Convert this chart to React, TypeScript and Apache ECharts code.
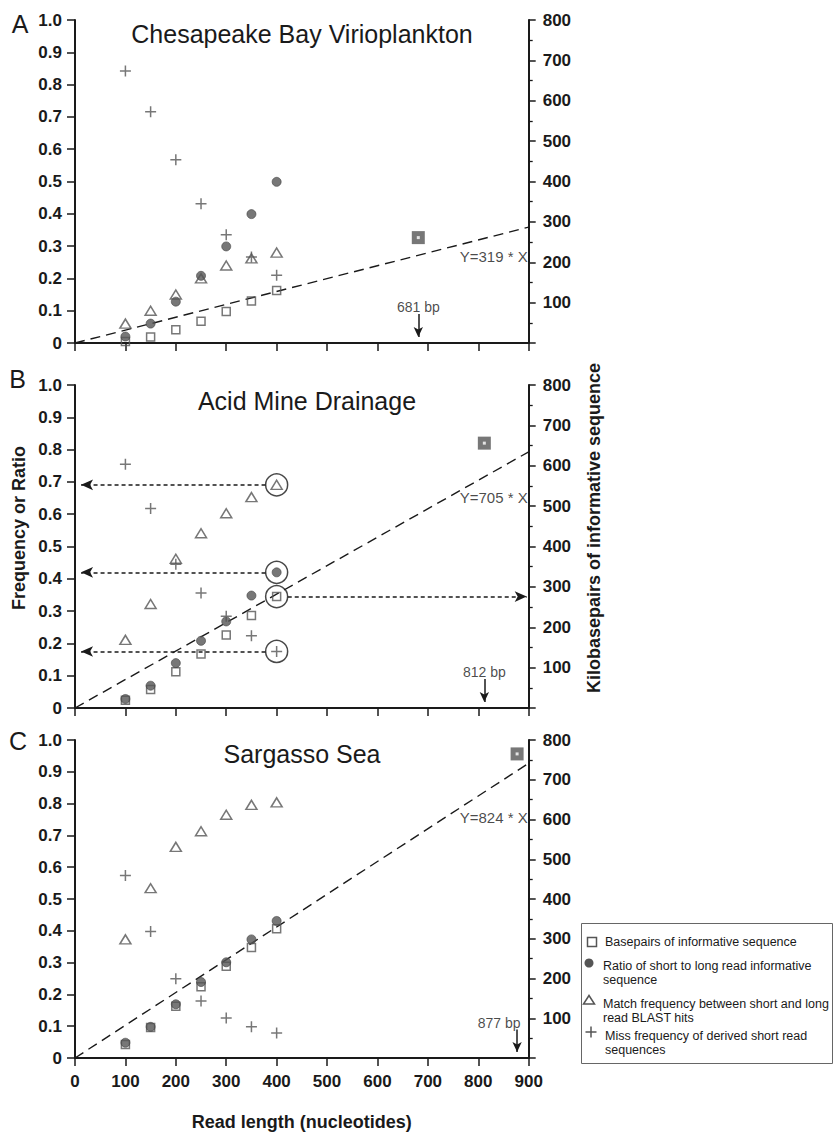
import React, { useEffect, useRef } from "react";
import * as echarts from "echarts";

// ---------- data ----------
const READ_LENGTHS = [100, 150, 200, 250, 300, 350, 400];
const X_TICK_LABELS = ["0", "100", "200", "300", "400", "500", "600", "700", "800", "900"];
const LEFT_TICK_LABELS = ["0", "0.1", "0.2", "0.3", "0.4", "0.5", "0.6", "0.7", "0.8", "0.9", "1.0"];
const RIGHT_TICK_LABELS = ["", "100", "200", "300", "400", "500", "600", "700", "800"];

const PANEL_TITLES = ["Chesapeake Bay Virioplankton", "Acid Mine Drainage", "Sargasso Sea"];
const PANEL_LETTERS = ["A", "B", "C"];

// Basepairs of informative sequence (kbp, right axis)
const basepairsA = [4, 15, 33, 54, 78, 104, 130];
const basepairsB = [19, 46, 90, 134, 181, 229, 276];
const basepairsC = [34, 77, 130, 179, 231, 278, 325];
// Ratio of short to long read informative sequence (left axis)
const ratioA = [0.02, 0.06, 0.128, 0.208, 0.299, 0.399, 0.499];
const ratioB = [0.028, 0.069, 0.139, 0.208, 0.268, 0.348, 0.42];
const ratioC = [0.048, 0.098, 0.169, 0.239, 0.301, 0.373, 0.431];
// Match frequency between short and long read BLAST hits (left axis)
const matchA = [0.06, 0.1, 0.15, 0.2, 0.24, 0.262, 0.28];
const matchB = [0.211, 0.322, 0.462, 0.541, 0.603, 0.653, 0.691];
const matchC = [0.373, 0.534, 0.664, 0.713, 0.765, 0.796, 0.804];
// Miss frequency of derived short read sequences (left axis)
const missA = [0.842, 0.716, 0.567, 0.431, 0.335, 0.266, 0.21];
const missB = [0.755, 0.618, 0.445, 0.356, 0.284, 0.224, 0.175];
const missC = [0.574, 0.398, 0.249, 0.179, 0.126, 0.098, 0.079];
// Full-length reads: [read length bp, kbp informative sequence]
const fullReadA = [681, 261];
const fullReadB = [812, 656];
const fullReadC = [877, 765];
// Regression slopes (Y = slope * X)
const SLOPES = [319, 705, 824];

const LEGEND_LABELS = [
  ["Basepairs of informative sequence"],
  ["Ratio of short to long read informative", "sequence"],
  ["Match frequency between short and long", "read BLAST hits"],
  ["Miss frequency of derived short read", "sequences"],
];

// ---------- layout / style ----------
const FONT = "'Liberation Sans', Arial, Helvetica, sans-serif";
const INK = "#1a1a1a";
const MARK = "#555555";
const GRID_TOPS = [20, 385, 740];
const GRID_LEFT = 75;
const GRID_W = 453.7;
const GRID_H = 323;
const EQ_LABEL_KBP = [215, 521, 605];
const BP_LABEL_OFFSET = [0, 0, -18];
const PLUS = "path://M5,0L5,10M0,5L10,5";

const panels = [
  { bp: basepairsA, ratio: ratioA, match: matchA, miss: missA, full: fullReadA },
  { bp: basepairsB, ratio: ratioB, match: matchB, miss: missB, full: fullReadB },
  { bp: basepairsC, ratio: ratioC, match: matchC, miss: missC, full: fullReadC },
];

const zip = (ys: number[]) => READ_LENGTHS.map((x, i) => [x, ys[i]]);

const plainLabel = {
  fontFamily: FONT,
  color: INK,
  textBorderWidth: 0,
  textBorderColor: "transparent",
  textShadowBlur: 0,
};

function buildOption() {
  const grid = GRID_TOPS.map((top) => ({ left: GRID_LEFT, top, width: GRID_W, height: GRID_H }));

  const xAxis = GRID_TOPS.map((_, i) => ({
    type: "value",
    gridIndex: i,
    min: 0,
    max: 900,
    interval: 100,
    axisLine: { show: true, onZero: false, lineStyle: { color: INK, width: 2 } },
    axisTick: { show: true, length: 8, lineStyle: { color: INK, width: 1.5 } },
    axisLabel: {
      show: i === 2,
      margin: 15,
      fontSize: 17,
      fontWeight: "bold",
      fontFamily: FONT,
      color: INK,
      formatter: (v: number) => X_TICK_LABELS[Math.round(v / 100)] ?? "",
    },
    splitLine: { show: false },
    name: i === 2 ? "Read length (nucleotides)" : "",
    nameLocation: "middle",
    nameGap: 55,
    nameTextStyle: { fontSize: 18, fontWeight: "bold", fontFamily: FONT, color: INK },
  }));

  const yAxis: any[] = [];
  GRID_TOPS.forEach((_, i) => {
    yAxis.push({
      type: "value",
      gridIndex: i,
      position: "left",
      min: 0,
      max: 1,
      interval: 0.1,
      axisLine: { show: true, onZero: false, lineStyle: { color: INK, width: 2 } },
      axisTick: { show: true, length: 8, lineStyle: { color: INK, width: 1.5 } },
      axisLabel: {
        margin: 13,
        fontSize: 17,
        fontWeight: "bold",
        fontFamily: FONT,
        color: INK,
        formatter: (v: number) => LEFT_TICK_LABELS[Math.round(v * 10)] ?? "",
      },
      splitLine: { show: false },
    });
    yAxis.push({
      type: "value",
      gridIndex: i,
      position: "right",
      min: 0,
      max: 800,
      interval: 100,
      axisLine: { show: true, onZero: false, lineStyle: { color: INK, width: 2 } },
      axisTick: { show: true, length: 7, lineStyle: { color: INK, width: 1.5 } },
      minorTick: { show: true, splitNumber: 2, length: 4, lineStyle: { color: INK, width: 1.3 } },
      axisLabel: {
        margin: 14,
        fontSize: 17,
        fontWeight: "bold",
        fontFamily: FONT,
        color: INK,
        formatter: (v: number) => RIGHT_TICK_LABELS[Math.round(v / 100)] ?? "",
      },
      splitLine: { show: false },
      minorSplitLine: { show: false },
    });
  });

  const series: any[] = [];
  panels.forEach((p, i) => {
    const left = 2 * i;
    const right = 2 * i + 1;
    // regression line
    series.push({
      type: "line",
      xAxisIndex: i,
      yAxisIndex: right,
      data: [
        [0, 0],
        [900, (SLOPES[i] * 900) / 1000],
      ],
      symbol: "none",
      silent: true,
      lineStyle: { type: [10, 6], width: 1.4, color: INK },
      z: 1,
    });
    series.push({
      name: LEGEND_LABELS[0].join(" "),
      type: "scatter",
      xAxisIndex: i,
      yAxisIndex: right,
      data: zip(p.bp),
      symbol: "rect",
      symbolSize: 8,
      itemStyle: { color: "rgba(255,255,255,0)", borderColor: MARK, borderWidth: 1.5 },
    });
    series.push({
      name: LEGEND_LABELS[1].join(" "),
      type: "scatter",
      xAxisIndex: i,
      yAxisIndex: left,
      data: zip(p.ratio),
      symbol: "circle",
      symbolSize: 9,
      itemStyle: { color: MARK, borderColor: "#444", borderWidth: 0.8 },
    });
    series.push({
      name: LEGEND_LABELS[2].join(" "),
      type: "scatter",
      xAxisIndex: i,
      yAxisIndex: left,
      data: zip(p.match),
      symbol: "triangle",
      symbolSize: [11, 9],
      itemStyle: { color: "rgba(255,255,255,0)", borderColor: MARK, borderWidth: 1.5 },
    });
    series.push({
      name: LEGEND_LABELS[3].join(" "),
      type: "scatter",
      xAxisIndex: i,
      yAxisIndex: left,
      data: zip(p.miss),
      symbol: PLUS,
      symbolSize: 11,
      itemStyle: { color: MARK, borderColor: MARK, borderWidth: 1.5 },
    });
    // full-length read
    series.push({
      type: "scatter",
      xAxisIndex: i,
      yAxisIndex: right,
      data: [p.full],
      symbol: "rect",
      symbolSize: 13,
      itemStyle: { color: MARK },
      z: 3,
      markLine: {
        silent: true,
        symbol: ["none", "arrow"],
        symbolSize: [7, 10],
        label: { show: false },
        lineStyle: { type: "solid", color: INK, width: 1.5 },
        data: [[{ coord: [p.full[0], 72] }, { coord: [p.full[0], 15] }]],
      },
    });
    series.push({
      type: "scatter",
      xAxisIndex: i,
      yAxisIndex: right,
      data: [p.full],
      symbol: "rect",
      symbolSize: 3,
      itemStyle: { color: "#ffffff" },
      z: 4,
      silent: true,
    });
    // "xxx bp" label
    series.push({
      type: "scatter",
      xAxisIndex: i,
      yAxisIndex: right,
      data: [[p.full[0], 89]],
      symbolSize: 0,
      silent: true,
      itemStyle: { color: INK },
      label: {
        show: true,
        position: "inside",
        offset: [BP_LABEL_OFFSET[i], 0],
        formatter: () => `${p.full[0]} bp`,
        fontSize: 14,
        ...plainLabel,
      },
    });
    // equation label
    series.push({
      type: "scatter",
      xAxisIndex: i,
      yAxisIndex: right,
      data: [[900, EQ_LABEL_KBP[i]]],
      symbolSize: 0,
      silent: true,
      itemStyle: { color: INK },
      label: {
        show: true,
        position: "left",
        distance: 1,
        formatter: () => `Y=${SLOPES[i]} * X`,
        fontSize: 15,
        ...plainLabel,
      },
    });
  });

  // Panel B highlights: circled points at 400 nt with arrows to the axes
  const last = READ_LENGTHS.length - 1;
  const xHi = READ_LENGTHS[last];
  const leftVals = [matchB[last], ratioB[last], missB[last]];
  const arrowStyle = { type: [4, 3], color: INK, width: 1.5 };
  series.push({
    type: "scatter",
    xAxisIndex: 1,
    yAxisIndex: 2,
    data: leftVals.map((v) => [xHi, v]),
    symbol: "circle",
    symbolSize: 22,
    silent: true,
    itemStyle: { color: "rgba(255,255,255,0)", borderColor: INK, borderWidth: 1.5 },
    markLine: {
      silent: true,
      symbol: ["none", "arrow"],
      symbolSize: [8, 12],
      label: { show: false },
      lineStyle: arrowStyle,
      data: leftVals.map((v) => [{ coord: [xHi - 22, v] }, { coord: [12, v] }]),
    },
  });
  series.push({
    type: "scatter",
    xAxisIndex: 1,
    yAxisIndex: 3,
    data: [[xHi, basepairsB[last]]],
    symbol: "circle",
    symbolSize: 22,
    silent: true,
    itemStyle: { color: "rgba(255,255,255,0)", borderColor: INK, borderWidth: 1.5 },
    markLine: {
      silent: true,
      symbol: ["none", "arrow"],
      symbolSize: [8, 12],
      label: { show: false },
      lineStyle: arrowStyle,
      data: [[{ coord: [xHi + 22, basepairsB[last]] }, { coord: [896, basepairsB[last]] }]],
    },
  });

  // ---------- graphic: titles, panel letters, axis names, legend ----------
  const titleX = [302, 307, 302];
  const titleY = [34, 401, 754];
  const letterPos = [
    [20, 24],
    [17.5, 379],
    [18, 741],
  ];
  const graphic: any[] = [];
  const centered = {
    fontFamily: FONT,
    fill: INK,
    align: "center",
    verticalAlign: "middle",
    textAlign: "center",
    textVerticalAlign: "middle",
  };
  PANEL_TITLES.forEach((t, i) => {
    graphic.push({
      type: "text",
      x: titleX[i],
      y: titleY[i],
      style: { text: t, fontSize: 25, ...centered },
    });
    graphic.push({
      type: "text",
      x: letterPos[i][0],
      y: letterPos[i][1],
      style: { text: PANEL_LETTERS[i], fontSize: 25, ...centered },
    });
  });
  graphic.push({
    type: "text",
    x: 19,
    y: 528,
    rotation: Math.PI / 2,
    style: { text: "Frequency or Ratio", fontSize: 18, fontWeight: "bold", ...centered },
  });
  graphic.push({
    type: "text",
    x: 594,
    y: 528,
    rotation: Math.PI / 2,
    style: { text: "Kilobasepairs of informative sequence", fontSize: 18, fontWeight: "bold", ...centered },
  });

  // legend box
  graphic.push({
    type: "rect",
    shape: { x: 581.5, y: 923.5, width: 251, height: 140 },
    style: { fill: "#ffffff", stroke: "#666666", lineWidth: 1 },
    z: 10,
  });
  graphic.push({
    type: "rect",
    shape: { x: 587.5, y: 937.5, width: 9, height: 9 },
    style: { fill: "none", stroke: MARK, lineWidth: 1.5 },
    z: 11,
  });
  graphic.push({
    type: "circle",
    shape: { cx: 589, cy: 963, r: 4.5 },
    style: { fill: MARK },
    z: 11,
  });
  graphic.push({
    type: "polygon",
    shape: {
      points: [
        [583.5, 1004],
        [594.5, 1004],
        [589, 995.5],
      ],
    },
    style: { fill: "none", stroke: MARK, lineWidth: 1.5 },
    z: 11,
  });
  graphic.push({
    type: "line",
    shape: { x1: 591, y1: 1026.5, x2: 591, y2: 1037.5 },
    style: { stroke: MARK, lineWidth: 1.5 },
    z: 11,
  });
  graphic.push({
    type: "line",
    shape: { x1: 585.5, y1: 1032, x2: 596.5, y2: 1032 },
    style: { stroke: MARK, lineWidth: 1.5 },
    z: 11,
  });
  const legendLineY = [[942], [966, 980], [1004, 1017.5], [1036, 1050]];
  const legendTextX = [605, 603, 603, 605];
  LEGEND_LABELS.forEach((lines, k) => {
    lines.forEach((ln, j) => {
      graphic.push({
        type: "text",
        x: legendTextX[k],
        y: legendLineY[k][j],
        z: 11,
        style: {
          text: ln,
          fontSize: 12.5,
          fontFamily: FONT,
          fill: INK,
          align: "left",
          verticalAlign: "middle",
          textAlign: "left",
          textVerticalAlign: "middle",
        },
      });
    });
  });

  return {
    animation: false,
    backgroundColor: "#ffffff",
    textStyle: { fontFamily: FONT },
    grid,
    xAxis,
    yAxis,
    series,
    graphic,
  };
}

export default function App() {
  const ref = useRef<HTMLDivElement>(null);
  useEffect(() => {
    if (!ref.current) return;
    const chart = echarts.init(ref.current, undefined, { renderer: "svg" });
    chart.setOption(buildOption() as any);
    return () => chart.dispose();
  }, []);
  return (
    <div
      ref={ref}
      style={{ position: "absolute", left: 0, top: 0, width: 833, height: 1132, background: "#fff" }}
    />
  );
}
